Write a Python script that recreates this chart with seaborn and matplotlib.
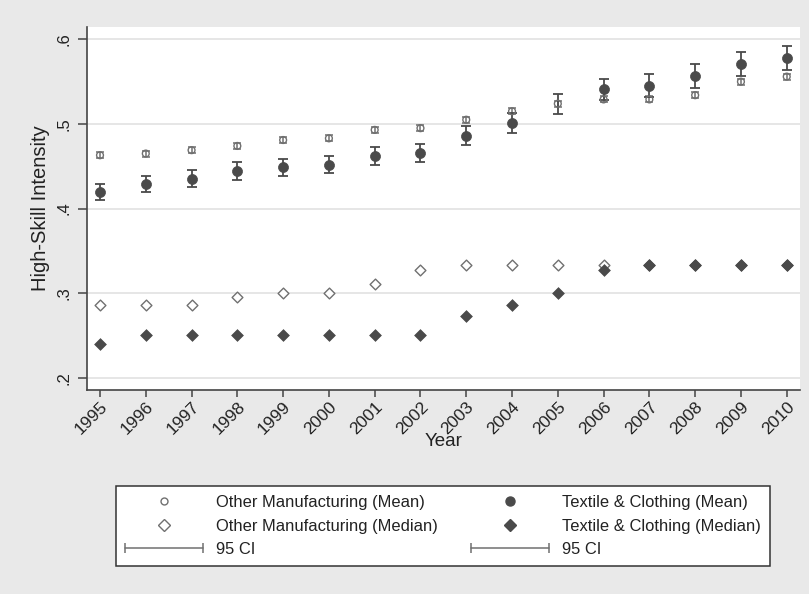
import numpy as np
import pandas as pd
import matplotlib
matplotlib.use("Agg")
import matplotlib.pyplot as plt
import matplotlib.transforms as mtransforms
from matplotlib.lines import Line2D
from matplotlib.legend_handler import HandlerLine2D
import seaborn as sns

# ---- data -------------------------------------------------------------
years = [1995, 1996, 1997, 1998, 1999, 2000, 2001, 2002,
         2003, 2004, 2005, 2006, 2007, 2008, 2009, 2010]

other_mean = [0.463, 0.465, 0.469, 0.474, 0.481, 0.483, 0.493, 0.495,
              0.505, 0.515, 0.524, 0.529, 0.529, 0.534, 0.550, 0.556]
other_lo = [0.4595, 0.4615, 0.4655, 0.4705, 0.4775, 0.4795, 0.4895, 0.4915,
            0.5015, 0.5115, 0.5205, 0.5255, 0.5255, 0.5305, 0.5465, 0.5525]
other_hi = [0.4665, 0.4685, 0.4725, 0.4775, 0.4845, 0.4865, 0.4965, 0.4985,
            0.5085, 0.5185, 0.5275, 0.5325, 0.5325, 0.5375, 0.5535, 0.5595]

textile_mean = [0.4195, 0.429, 0.435, 0.444, 0.449, 0.452, 0.4625, 0.4655,
                0.486, 0.501, np.nan, 0.541, 0.545, 0.557, 0.571, 0.578]
textile_lo = [0.4095, 0.4195, 0.4255, 0.434, 0.439, 0.442, 0.452, 0.455,
              0.475, 0.489, 0.512, 0.5285, 0.532, 0.543, 0.557, 0.564]
textile_hi = [0.429, 0.439, 0.445, 0.4545, 0.459, 0.462, 0.473, 0.476,
              0.497, 0.5125, 0.536, 0.5537, 0.559, 0.5705, 0.5845, 0.592]

other_median = [0.286, 0.286, 0.286, 0.295, 0.300, 0.300, 0.311, 0.3275,
                0.3333, 0.3333, 0.3333, 0.3333, 0.3333, 0.3333, 0.3333, 0.3333]
textile_median = [0.240, 0.250, 0.250, 0.250, 0.250, 0.250, 0.250, 0.250,
                  0.2725, 0.286, 0.300, 0.327, 0.3333, 0.3333, 0.3333, 0.3333]

y_ticks = [0.2, 0.3, 0.4, 0.5, 0.6]
y_tick_labels = [".2", ".3", ".4", ".5", ".6"]

# ---- style ------------------------------------------------------------
sns.set_style("white")
plt.rcParams["font.family"] = ["Liberation Sans", "DejaVu Sans"]
plt.rcParams["text.color"] = "#222222"

BG = "#e9e9e9"
DARK = "#4a4a4a"
MID = "#707070"

fig = plt.figure(figsize=(8.09, 5.94), dpi=100, facecolor=BG)
W, H = 809, 594
ax = fig.add_axes([87 / W, 1 - 390 / H, (800 - 87) / W, (390 - 26.7) / H])
ax.set_facecolor("white")

# ---- confidence intervals --------------------------------------------
o_lo, o_hi = np.array(other_lo), np.array(other_hi)
t_lo, t_hi = np.array(textile_lo), np.array(textile_hi)
ax.errorbar(years, (o_lo + o_hi) / 2, yerr=(o_hi - o_lo) / 2, fmt="none",
            ecolor=MID, elinewidth=1.1, capsize=2.6, capthick=1.1, zorder=3)
ax.errorbar(years, (t_lo + t_hi) / 2, yerr=(t_hi - t_lo) / 2, fmt="none",
            ecolor=DARK, elinewidth=1.3, capsize=3.6, capthick=1.3, zorder=3)

# ---- points -----------------------------------------------------------
sns.scatterplot(x=years, y=other_median, ax=ax, marker="D", s=30,
                color="white", edgecolor=MID, linewidth=1.0, zorder=4)
sns.scatterplot(x=years, y=textile_median, ax=ax, marker="D", s=36,
                color=DARK, edgecolor=DARK, linewidth=0.5, zorder=5)
sns.scatterplot(x=years, y=other_mean, ax=ax, marker="o", s=24,
                color="none", edgecolor=MID, linewidth=1.0, zorder=4)
sns.scatterplot(x=years, y=textile_mean, ax=ax, marker="o", s=52,
                color=DARK, edgecolor=DARK, linewidth=0.5, zorder=5)

# ---- axes -------------------------------------------------------------
ax.set_xlim(1994.716, 2010.29)
ax.set_ylim(0.1854, 0.615)
ax.set_yticks(y_ticks)
ax.set_yticklabels(y_tick_labels, rotation=90, va="center", fontsize=12)
ax.set_xticks(years)
ax.set_xticklabels([str(y) for y in years], rotation=45, ha="right",
                   va="top", rotation_mode="anchor", fontsize=12.5)
offset = mtransforms.ScaledTranslation(3 / 100, 0, fig.dpi_scale_trans)
for lab in ax.get_xticklabels():
    lab.set_transform(lab.get_transform() + offset)

ax.grid(axis="y", color="#e2e2e2", linewidth=1.2)
ax.grid(axis="x", visible=False)
for side in ["top", "right"]:
    ax.spines[side].set_visible(False)
for side in ["left", "bottom"]:
    ax.spines[side].set_color("#444444")
    ax.spines[side].set_linewidth(1.2)
ax.tick_params(axis="y", direction="out", length=6.5, width=1.1,
               color="#444444", pad=5, left=True, labelcolor="#222222")
ax.tick_params(axis="x", direction="out", length=5, width=1.1,
               color="#444444", pad=1.5, bottom=True, labelcolor="#222222")

ax.set_xlabel("Year", fontsize=13.5, color="#222222")
ax.xaxis.set_label_coords(0.5, -(441 - 390) / 363.3)
ax.xaxis.label.set_va("center")
ax.set_ylabel("High-Skill Intensity", fontsize=14.5, color="#222222")
ax.yaxis.set_label_coords(-(87 - 40.5) / 713, 0.5)
ax.yaxis.label.set_va("center")

# ---- legend -----------------------------------------------------------
h_om = Line2D([], [], linestyle="none", marker="o", markersize=5,
              markerfacecolor="none", markeredgecolor=MID, markeredgewidth=1.0)
h_omd = Line2D([], [], linestyle="none", marker="D", markersize=6,
               markerfacecolor="white", markeredgecolor=MID, markeredgewidth=1.0)
h_ci1 = Line2D([], [], color=MID, linewidth=1.1, marker="|", markersize=7,
               markeredgewidth=1.1)
h_tc = Line2D([], [], linestyle="none", marker="o", markersize=6.5,
              markerfacecolor=DARK, markeredgecolor=DARK)
h_tcd = Line2D([], [], linestyle="none", marker="D", markersize=6.5,
               markerfacecolor=DARK, markeredgecolor=DARK)
h_ci2 = Line2D([], [], color=MID, linewidth=1.1, marker="|", markersize=7,
               markeredgewidth=1.1)
ci_handler = HandlerLine2D(numpoints=2, marker_pad=0)

leg = fig.legend(
    [h_om, h_omd, h_ci1, h_tc, h_tcd, h_ci2],
    ["Other Manufacturing (Mean)", "Other Manufacturing (Median)", "95 CI",
     "Textile & Clothing (Mean)", "Textile & Clothing (Median)", "95 CI"],
    ncol=2, loc="center", bbox_to_anchor=(443 / W, 1 - 526 / H),
    fontsize=11.9, frameon=True, fancybox=False, edgecolor="#333333",
    facecolor="white", framealpha=1, handlelength=4.7, handletextpad=0.8,
    columnspacing=2.0, labelspacing=0.5, borderpad=0.55, borderaxespad=0,
    handler_map={h_ci1: ci_handler, h_ci2: ci_handler},
)
leg.get_frame().set_linewidth(1.1)

fig.savefig("out.png", dpi=100, facecolor=BG)
